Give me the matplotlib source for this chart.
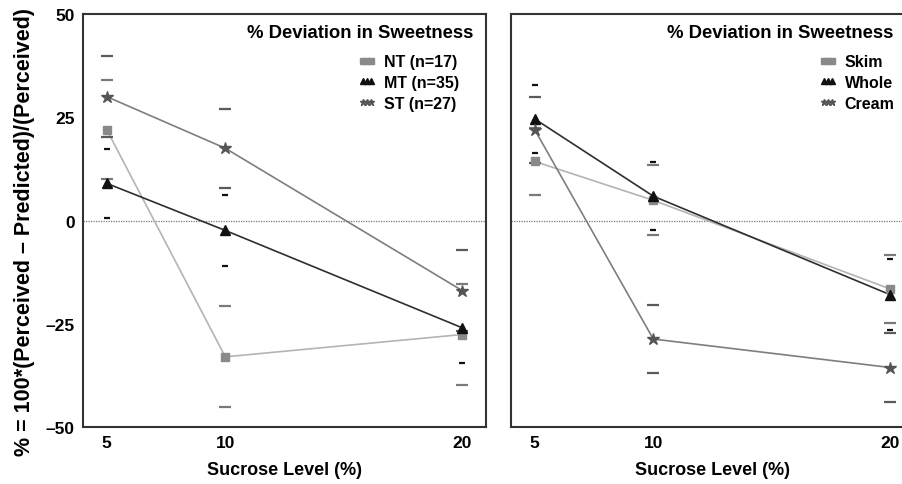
import matplotlib.pyplot as plt
from matplotlib.lines import Line2D

plt.rcParams['font.family'] = ['Liberation Sans', 'DejaVu Sans']
plt.rcParams['font.weight'] = 'bold'

# sucrose levels (%)
sucrose = [5, 10, 20]

# left panel: taster groups, mean % deviation and half-width of the error caps
nt_mean = [22.0, -33.0, -27.6]
nt_err = [12.0, 12.2, 12.2]
mt_mean = [9.0, -2.4, -26.0]
mt_err = [8.4, 8.6, 8.5]
st_mean = [30.0, 17.5, -17.0]
st_err = [9.8, 9.6, 9.8]

# right panel: milk type
skim_mean = [14.3, 4.9, -16.6]
skim_err = [8.2, 8.5, 8.3]
whole_mean = [24.6, 5.9, -18.0]
whole_err = [8.2, 8.2, 8.6]
cream_mean = [22.0, -28.7, -35.6]
cream_err = [8.0, 8.2, 8.4]

left_labels = ["NT (n=17)", "MT (n=35)", "ST (n=27)"]
right_labels = ["Skim", "Whole", "Cream"]

# line colour, marker, marker colour, marker size, cap colour, cap size
styles = [
    ("#b4b4b4", "s", "#8a8a8a", 6, "#7a7a7a", 9),
    ("#2e2e2e", "^", "#111111", 7, "#111111", 4.5),
    ("#7e7e7e", "*", "#555555", 9, "#5a5a5a", 8),
]


def draw_panel(ax, means, errs, labels, show_y, leg_x, title_x):
    for (mean, err, st) in zip(means, errs, styles):
        lc, mk, mc, ms, cc, cs = st
        ax.plot(sucrose, mean, color=lc, lw=1.2, zorder=2)
        ax.plot(sucrose, mean, ls="none", marker=mk, ms=ms, color=mc, zorder=4)
        upper = [m + e for m, e in zip(mean, err)]
        lower = [m - e for m, e in zip(mean, err)]
        ax.plot(sucrose, upper, ls="none", marker="_", ms=cs, mew=1.6, color=cc, zorder=3)
        ax.plot(sucrose, lower, ls="none", marker="_", ms=cs, mew=1.6, color=cc, zorder=3)

    ax.axhline(0, color="#777777", lw=0.9, ls=(0, (1, 1)), zorder=1)
    ax.set_xlim(4, 21)
    ax.set_ylim(-50, 50)
    ax.set_xticks(sucrose)
    ax.set_xticklabels([str(s) for s in sucrose], fontsize=12.5, fontweight="bold")
    ax.set_yticks([-50, -25, 0, 25, 50])
    if show_y:
        ax.set_yticklabels(["\u201350", "\u201325", "0", "25", "50"], fontsize=12.5, fontweight="bold")
    else:
        ax.set_yticklabels([])
    ax.tick_params(length=0, pad=6)
    for sp in ax.spines.values():
        sp.set_linewidth(1.5)
        sp.set_color("#333333")
    ax.set_xlabel("Sucrose Level (%)", fontsize=13, fontweight="bold", labelpad=8)

    ax.text(title_x, 0.975, "% Deviation in Sweetness", transform=ax.transAxes,
            ha="right", va="top", fontsize=13.3, fontweight="bold")

    handles = []
    for st in styles:
        lc, mk, mc, ms, cc, cs = st
        handles.append(Line2D([], [], ls="none", marker=mk, ms=4.5, color=mc))
    ax.legend(handles, labels, loc="upper right", bbox_to_anchor=(leg_x, 0.937),
              frameon=False, numpoints=3, handlelength=1.1, handletextpad=0.5,
              labelspacing=0.35, prop={"size": 11.5, "weight": "bold"})


fig = plt.figure(figsize=(9.02, 4.85), dpi=100)
ax1 = fig.add_axes([0.092, 0.1175, 0.447, 0.8515])
ax2 = fig.add_axes([0.5665, 0.1175, 0.447, 0.8515])

draw_panel(ax1, [nt_mean, mt_mean, st_mean], [nt_err, mt_err, st_err], left_labels, True, 0.969, 0.968)
draw_panel(ax2, [skim_mean, whole_mean, cream_mean], [skim_err, whole_err, cream_err], right_labels, False, 0.987, 0.948)

ax1.set_ylabel("% = 100*(Perceived \u2013 Predicted)/(Perceived)", fontsize=15.5,
               fontweight="bold", va="center")
ax1.yaxis.set_label_coords(-0.146, 0.475)

fig.savefig("out.png", dpi=100)
